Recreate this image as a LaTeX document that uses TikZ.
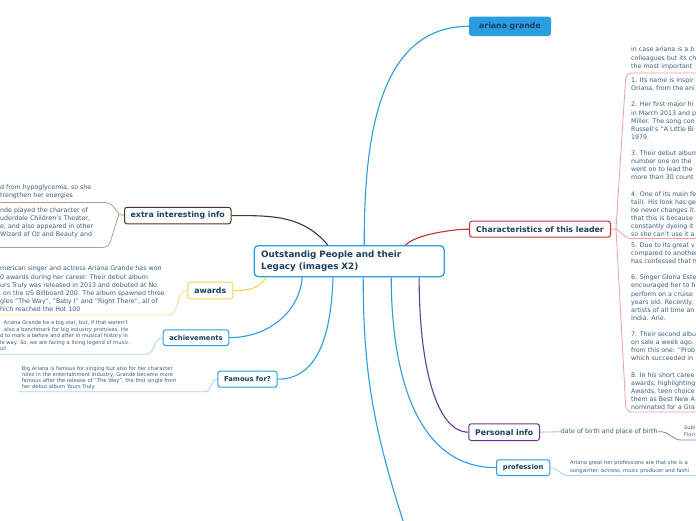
\documentclass[tikz,border=0pt]{standalone}
\usepackage{fontspec}
\setmainfont{DejaVu Sans}
\definecolor{mmblue}{HTML}{2A9DE1}
\definecolor{mmnavy}{HTML}{1B3F60}
\definecolor{mmtext}{HTML}{3C5D7C}
\definecolor{mmred}{HTML}{C1313B}
\definecolor{ltred}{HTML}{E6A3A8}
\definecolor{mmpurple}{HTML}{6B3795}
\definecolor{ltpurple}{HTML}{C7A6D9}
\definecolor{mmbrown}{HTML}{4A3426}
\definecolor{ltbrown}{HTML}{ADA098}
\definecolor{mmyellow}{HTML}{F6D44A}
\definecolor{ltyellow}{HTML}{F8E48C}
\definecolor{ltblue}{HTML}{A6D3F2}
\tikzset{
  topic/.style={draw, rounded corners=2.5pt, line width=1pt, fill=white, text=mmnavy, inner sep=0pt, anchor=north west, font=\bfseries\fontsize{7.8}{9}\selectfont},
  subtopic/.style={topic, font=\bfseries\fontsize{6.8}{8}\selectfont},
  note/.style={anchor=north west, inner sep=0pt, align=left, text=mmtext, font=\fontsize{6.3}{8.1}\selectfont},
  smallnote/.style={note, font=\fontsize{5.2}{6.4}\selectfont},
  link/.style={line width=1.1pt},
  sublink/.style={line width=0.8pt}
}
\begin{document}
\begin{tikzpicture}[x=1pt,y=1pt]
\path[fill=white,use as bounding box] (0,-520) rectangle (696,0);
\node[topic, draw=mmblue, line width=1.3pt, rounded corners=4pt, minimum width=190pt, minimum height=31pt, align=left, text width=176pt, font=\bfseries\fontsize{8.8}{12}\selectfont] (legacy) at (253.5,-245) {Outstandig People and their\\Legacy (images X2)};
\node[topic, draw=mmblue, fill=mmblue, text=mmnavy, minimum width=81pt, minimum height=18.5pt] (ariana) at (469,-16.5) {ariana grande};
\node[topic, draw=mmred, minimum width=141pt, minimum height=16pt] (traits) at (469,-220.7) {Characteristics of this leader};
\node[topic, draw=mmbrown, minimum width=106.5pt, minimum height=16.5pt] (extra) at (124,-206.8) {extra interesting info};
\node[topic, draw=mmyellow, minimum width=45pt, minimum height=16.6pt] (awards) at (187.3,-281.7) {awards};
\node[subtopic, draw=mmblue, minimum width=65.6pt, minimum height=15.7pt] (ach) at (162.7,-329.3) {achievements};
\node[subtopic, draw=mmblue, minimum width=59.4pt, minimum height=16pt] (famous) at (217.3,-370.7) {Famous for?};
\node[topic, draw=mmpurple, minimum width=70.7pt, minimum height=16.7pt] (personal) at (468.3,-423.3) {Personal info};
\node[subtopic, draw=mmblue, minimum width=53.3pt, minimum height=15.7pt] (prof) at (496,-459.3) {profession};

\node[note] (traitsintro) at (631,-47) {in case ariana is a b\\colleagues but its ch\\the most important};
\node[note] (traitsa) at (631,-77.7) {1. Its name is inspir\\Oriana, from the ani\\[8.1pt]
2. Her first major hi\\in March 2013 and p\\Miller. The song con\\Russell's "A Little Bi\\1979.\\[8.1pt]
3. Their debut album\\number one on the\\went on to lead the\\more than 30 count\\[8.1pt]
4. One of its main fe\\tail). His look has ge\\he never changes it.\\that this is because\\constantly dyeing it\\so she can't use it a};
\node[note] (traitsb) at (631,-242.5) {5. Due to its great v\\compared to another\\has confessed that h\\[8.1pt]
6. Singer Gloria Este\\encouraged her to h\\perform on a cruise\\years old. Recently,\\artists of all time an\\India. Arie.\\[8.1pt]
7. Their second albu\\on sale a week ago.\\from this one: "Prob\\which succeeded in\\[8.1pt]
8. In his short caree\\awards, highlighting\\Awards, teen choice\\them as Best New A\\nominated for a Gra};
\node[note] (extraa) at (0,-184.3) {d from hypoglycemia, so she\\trengthen her energies};
\node[note] (extrab) at (0,-207.7) {nde played the character of\\uderdale Children's Theater,\\e, and also appeared in other\\Wizard of Oz and Beauty and};
\node[note] (awardst) at (0,-266) {merican singer and actress Ariana Grande has won\\0 awards during her career. Their debut album\\urs Truly was released in 2013 and debuted at No.\\\hspace*{3pt}on the US Billboard 200. The album spawned three\\gles "The Way", "Baby I" and "Right There", all of\\hich reached the Hot 100};
\node[smallnote, font=\fontsize{5.2}{6.5}\selectfont] (acht) at (0,-320.8) {\hspace*{3.5pt}Ariana Grande be a big star, but, if that weren't\\\hspace*{4pt}also a benchmark for big industry promises. He\\d to mark a before and after in musical history in\\le way. So, we are facing a living legend of music.\\ul!};
\node[smallnote, font=\fontsize{5.2}{6}\selectfont] (famoust) at (21.7,-366.2) {Big Ariana is famous for singing but also for her character\\roles in the entertainment industry, Grande became more\\famous after the release of "The Way", the first single from\\her debut album Yours Truly};
\node[note] (dob) at (560.7,-428.5) {date of birth and place of birth};
\node[smallnote, font=\fontsize{5}{6.7}\selectfont] (birthplace) at (684,-425.8) {Subl\\Flori};
\node[smallnote, font=\fontsize{5.2}{7.7}\selectfont] (proft) at (570,-460.8) {Ariana great her professions are that she is a\\songwriter, actress, music producer and fashi};

\draw[link, mmblue] (legacy.47) to[out=90,in=180] (ariana.west);
\draw[link, mmred] (legacy.16.5) to[out=45,in=180,looseness=0.6] (traits.west);
\draw[link, mmbrown] (legacy.143) to[out=130,in=0] (extra.east);
\draw[link, mmyellow] (legacy.191.6) to[out=-120,in=0] (awards.east);
\draw[link, mmblue] (legacy.199.6) to[out=-95,in=0] (ach.east);
\draw[link, mmblue] (legacy.225) to[out=-92,in=0] (famous.east);
\coordinate (offpage) at (406,-530);
\draw[link, mmblue] (legacy.311.1) to[out=-90,in=108] (offpage);
\draw[link, mmblue] (legacy.339.5) to[out=-90,in=180] (prof.west);
\draw[link, mmpurple] (legacy.347.25) to[out=-90,in=180,out looseness=1.4,in looseness=0.5] (personal.west);

\coordinate (tj) at (616,-229);
\coordinate (ttop) at (626,-73);
\coordinate (tmid) at (632,-238.5);
\coordinate (tbot) at (626,-412);
\draw[sublink, ltred] (traits.east) -- (tj);
\draw[sublink, ltred, rounded corners=6pt] (tj) -- (ttop) -- (700,-73);
\draw[sublink, ltred, rounded corners=6pt] (tj) -- (tbot) -- (700,-412);
\draw[sublink, ltred] (tj) to[out=-30,in=180] (tmid) -- (700,-238.5);

\coordinate (ej) at (119,-214);
\coordinate (etop) at (110,-202.5);
\coordinate (ebot) at (108.5,-247.5);
\draw[sublink, ltbrown] (extra.west) -- (ej);
\draw[sublink, ltbrown, rounded corners=5pt] (ej) -- (etop) -- (-5,-202.5);
\draw[sublink, ltbrown, rounded corners=5pt] (ej) -- (ebot) -- (-5,-247.5);

\coordinate (aw) at (168,-315);
\draw[sublink, ltyellow] (awards.west) to[out=180,in=0] (aw) -- (-5,-315);
\coordinate (ac) at (146,-354.3);
\draw[sublink, ltblue] (ach.west) to[out=180,in=0] (ac) -- (-5,-354.3);
\coordinate (fa) at (205,-391.7);
\draw[sublink, ltblue] (famous.west) to[out=180,in=0] (fa) -- (19,-391.7);
\coordinate (pr) at (568,-475.5);
\draw[sublink, ltblue] (prof.east) to[out=0,in=180] (pr) -- (700,-475.5);
\draw[sublink, ltpurple] (personal.east) -- (dob.west);
\coordinate (bp) at (681,-440);
\draw[sublink, mmpurple!70] (dob.east) -- ++(3,0) to[out=0,in=180] (bp) -- (700,-440);
\end{tikzpicture}
\end{document}
